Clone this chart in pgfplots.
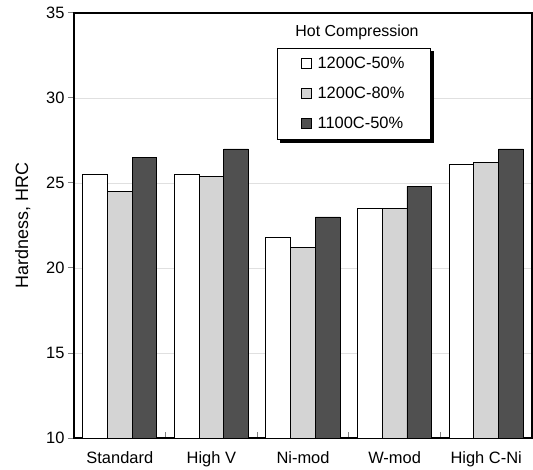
\documentclass[border=0pt]{standalone}
\usepackage{pgfplots}
\pgfplotsset{compat=1.18}
\usepackage{fontspec}
\setmainfont{Liberation Sans}
\definecolor{lgray}{HTML}{D4D4D4}
\definecolor{dgray}{HTML}{505050}
\begin{document}
\begin{tikzpicture}
\begin{axis}[
  at={(0,0)}, anchor=south west,
  scale only axis, width=458bp, height=425bp,
  xmin=-0.5, xmax=4.5, ymin=10, ymax=35,
  ybar=0pt, bar width=0.27,
  ytick={10,15,...,35},
  xtick={0.5,1.5,2.5,3.5}, xticklabels={},
  extra x ticks={0,1,2,3,4},
  extra x tick labels={Standard,High V,Ni-mod,W-mod,High C-Ni},
  extra x tick style={major tick length=0pt, grid=none},
  xtick pos=bottom, ytick pos=left,
  tick align=outside,
  major tick length=6bp,
  x tick style={yshift=6bp, line width=0.8pt},
  y tick style={line width=1pt},
  ymajorgrids, grid style={draw=black!12, line width=0.8pt},
  axis line style={line width=1.6bp},
  font=\fontsize{16.5}{19}\selectfont,
  tick label style={font=\fontsize{16.5}{19}\selectfont},
  /pgf/number format/assume math mode=true,
  ylabel={Hardness, HRC},
  ylabel style={font=\fontsize{18}{21}\selectfont, yshift=9bp},
  xticklabel style={yshift=-10bp},
  legend style={at={(rel axis cs:0.611,0.918)}, anchor=north, name=leg,
    draw=black, line width=1pt, fill=white,
    font=\fontsize{16.5}{19}\selectfont,
    inner xsep=24bp, inner ysep=7bp, row sep=13bp, cells={anchor=west}},
  legend image code/.code={\draw[#1, line width=0.7pt] (0bp,-5bp) rectangle (10bp,5bp); \path[draw=none, fill=none] (14bp,0bp);},
  legend cell align=left,
  every axis plot/.append style={draw=black, line width=0.9pt},
]
\addplot[fill=white] coordinates {(0,25.5) (1,25.5) (2,21.8) (3,23.5) (4,26.1)};
\addplot[fill=lgray] coordinates {(0,24.5) (1,25.4) (2,21.2) (3,23.5) (4,26.2)};
\addplot[fill=dgray] coordinates {(0,26.5) (1,27.0) (2,23.0) (3,24.8) (4,27.0)};
\legend{1200C-50\%,1200C-80\%,1100C-50\%}
\node[font=\fontsize{16}{19}\selectfont] at (rel axis cs:0.618,0.955) {Hot Compression};
\end{axis}
\fill[black] ([xshift=3bp,yshift=-0.5pt]leg.south west) rectangle ([xshift=3bp,yshift=-3.5bp]leg.south east);
\fill[black] ([xshift=0.5pt,yshift=-3bp]leg.north east) rectangle ([xshift=3.5bp,yshift=-3.5bp]leg.south east);
\pgfresetboundingbox
\path (-74bp,-32bp) rectangle (459bp,438bp);
\end{tikzpicture}
\end{document}
